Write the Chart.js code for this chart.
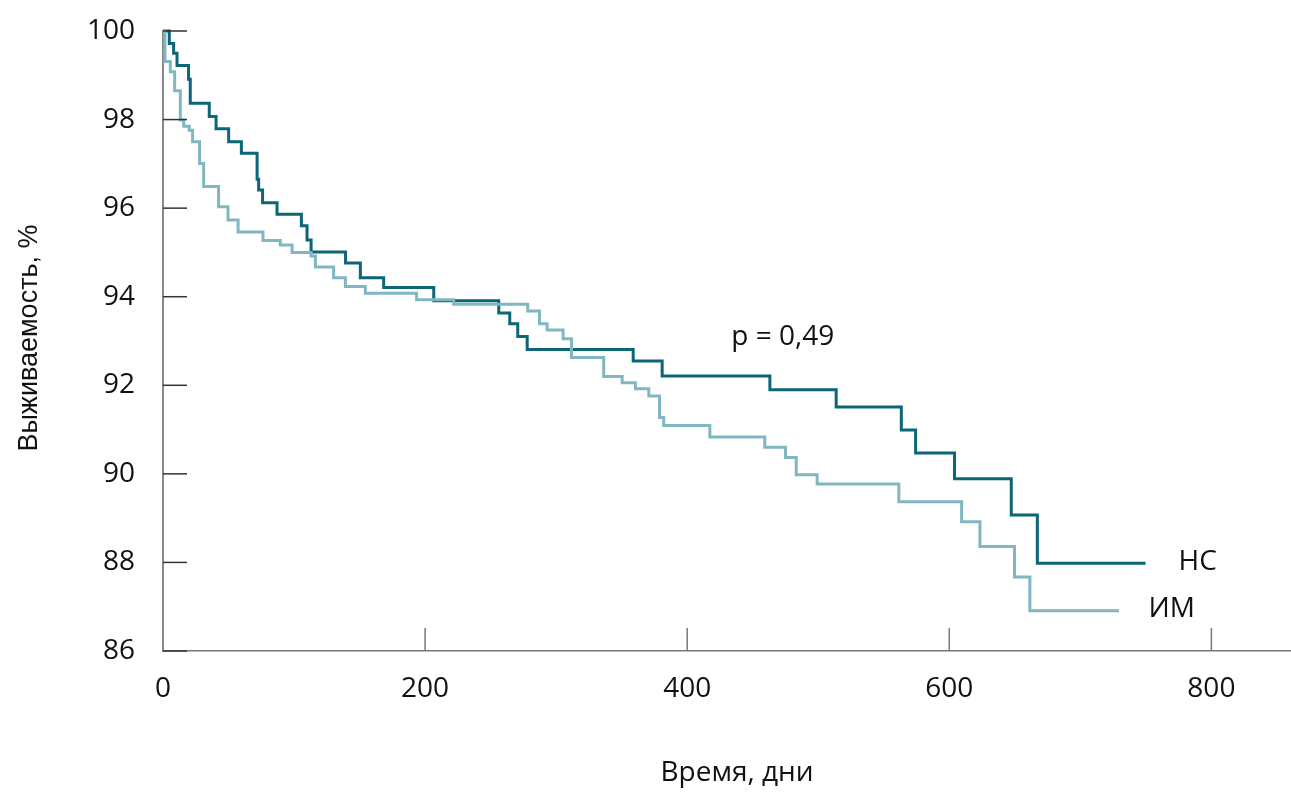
<!DOCTYPE html>
<html>
<head>
<meta charset="utf-8">
<script src="https://cdn.jsdelivr.net/npm/chart.js@4/dist/chart.umd.min.js"></script>
<style>
  body { margin: 0; background: #fff; }
  #wrap { width: 1291px; height: 801px; }
</style>
</head>
<body>
<div id="wrap"><canvas id="km" width="1291" height="801"></canvas></div>
<script>
// survival steps (day, % after the drop)
const nsDays = [0, 4.8, 8.1, 10.7, 19.5, 20.8, 35.3, 40.5, 50.1, 59.8, 71.8, 73.0, 76.0, 87.0,
                105.6, 109.9, 113.0, 139.3, 150.6, 168.4, 206.6, 256.2, 264.6, 270.7, 277.9,
                358.8, 380.9, 463.1, 513.7, 563.4, 574.3, 604.0, 647.3, 667.2, 749.8];
const nsSurv = [100, 99.72, 99.50, 99.22, 98.91, 98.37, 98.07, 97.79, 97.50, 97.24, 96.65, 96.41, 96.12, 95.86,
                95.60, 95.28, 95.01, 94.76, 94.43, 94.21, 93.91, 93.63, 93.39, 93.10, 92.81,
                92.55, 92.21, 91.90, 91.51, 90.99, 90.47, 89.89, 89.07, 87.98, 87.98];

const imDays = [0, 1.5, 5.6, 8.9, 13.2, 15.8, 20.0, 22.6, 27.9, 31.0, 42.4, 49.6, 57.3, 76.3, 89.5, 98.5,
                113.0, 116.3, 130.2, 139.2, 154.4, 193.5, 221.8, 278.3, 287.3, 293.1, 305.3, 311.7,
                336.3, 350.4, 360.5, 370.7, 378.9, 382.1, 417.3, 459.2, 475.0, 483.2, 499.2, 561.5,
                609.4, 623.4, 649.8, 661.5, 729.5];
const imSurv = [100, 99.31, 99.08, 98.65, 97.99, 97.85, 97.76, 97.50, 97.01, 96.49, 96.03, 95.73, 95.46, 95.27, 95.17, 95.00,
                94.92, 94.67, 94.43, 94.23, 94.08, 93.93, 93.83, 93.68, 93.39, 93.25, 93.05, 92.63,
                92.20, 92.06, 91.92, 91.76, 91.27, 91.09, 90.83, 90.60, 90.37, 89.98, 89.77, 89.37,
                88.92, 88.36, 87.67, 86.91, 86.91];

const xTicks = [0, 200, 400, 600, 800];
const yTicks = [86, 88, 90, 92, 94, 96, 98, 100];

const labels = [
  { text: "p = 0,49", x: 473, y: 93.09, align: "center" },
  { text: "НС", x: 775, y: 88.0, align: "left" },
  { text: "ИМ", x: 752, y: 86.95, align: "left" }
];

const toPoints = (xs, ys) => xs.map((x, i) => ({ x: x, y: ys[i] }));

const textFont = '"Open Sans", sans-serif';

// tick marks drawn inward, titles and curve labels
const decor = {
  id: 'decor',
  afterDraw(chart) {
    const ctx = chart.ctx;
    const xs = chart.scales.x, ys = chart.scales.y;
    const area = chart.chartArea;
    ctx.save();
    ctx.lineWidth = 1.5;
    ctx.strokeStyle = '#333';
    yTicks.forEach(v => {
      const py = ys.getPixelForValue(v);
      ctx.beginPath();
      ctx.moveTo(area.left, py);
      ctx.lineTo(area.left + 24, py);
      ctx.stroke();
    });
    ctx.strokeStyle = '#777';
    xTicks.slice(1).forEach(v => {
      const px = xs.getPixelForValue(v);
      ctx.beginPath();
      ctx.moveTo(px, area.bottom);
      ctx.lineTo(px, area.bottom - 23);
      ctx.stroke();
    });

    ctx.fillStyle = '#111';
    ctx.font = '28px ' + textFont;
    ctx.textBaseline = 'middle';
    labels.forEach(l => {
      ctx.textAlign = l.align;
      ctx.fillText(l.text, xs.getPixelForValue(l.x), ys.getPixelForValue(l.y));
    });

    ctx.textAlign = 'center';
    ctx.fillText('Время, дни', 737, 773);

    ctx.translate(30, 338);
    ctx.rotate(-Math.PI / 2);
    ctx.font = '27px "Liberation Sans", Arial, sans-serif';
    ctx.fillText('Выживаемость, %', 0, 0);
    ctx.restore();
  }
};

new Chart(document.getElementById('km').getContext('2d'), {
  type: 'scatter',
  data: {
    datasets: [
      {
        label: 'ИМ',
        data: toPoints(imDays, imSurv),
        showLine: true,
        stepped: true,
        borderColor: '#80b7c1',
        borderWidth: 3,
        pointRadius: 0,
        clip: false
      },
      {
        label: 'НС',
        data: toPoints(nsDays, nsSurv),
        showLine: true,
        stepped: true,
        borderColor: '#0b6676',
        borderWidth: 3,
        pointRadius: 0,
        clip: false
      }
    ]
  },
  options: {
    responsive: false,
    animation: false,
    layout: { padding: { top: 31, right: 1, left: 0, bottom: 0 } },
    plugins: {
      legend: { display: false },
      tooltip: { enabled: false }
    },
    scales: {
      x: {
        type: 'linear',
        min: 0,
        max: 860,
        afterFit: s => { s.height = 150; s.paddingLeft = 0; s.paddingRight = 0; },
        afterBuildTicks: s => { s.ticks = xTicks.map(v => ({ value: v })); },
        grid: { display: false },
        border: { color: '#777', width: 1.5 },
        ticks: {
          padding: 13,
          color: '#111',
          font: { family: textFont, size: 28 }
        }
      },
      y: {
        min: 86,
        max: 100,
        afterFit: s => { s.width = 163; s.paddingTop = 0; s.paddingBottom = 0; },
        afterBuildTicks: s => { s.ticks = yTicks.map(v => ({ value: v })); },
        grid: { display: false },
        border: { color: '#888', width: 2 },
        ticks: {
          padding: 20,
          color: '#111',
          font: { family: textFont, size: 28 }
        }
      }
    }
  },
  plugins: [decor]
});
</script>
</body>
</html>
